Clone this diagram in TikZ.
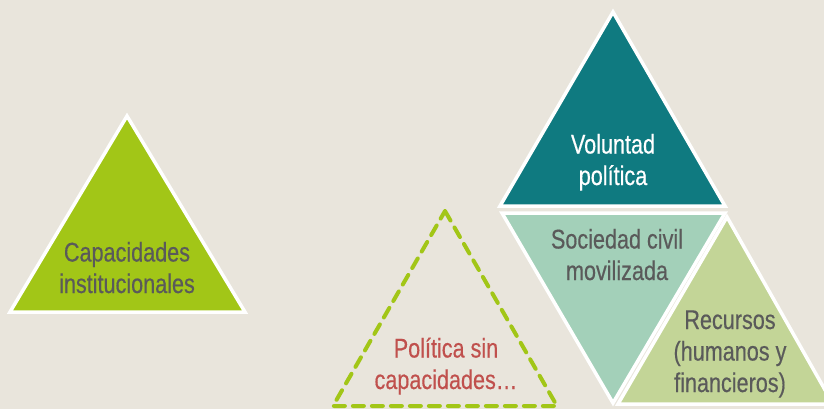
\documentclass[tikz,border=0pt]{standalone}
\usepackage{fontspec}
\setmainfont{Liberation Sans}[FakeStretch=0.8,FakeBold=0.4]
\definecolor{bgc}{HTML}{E9E5DC}
\definecolor{limeg}{HTML}{A2C617}
\definecolor{tealc}{HTML}{0F7A80}
\definecolor{mintc}{HTML}{A3D0B9}
\definecolor{sageg}{HTML}{C3D597}
\definecolor{txtg}{HTML}{5A5A5A}
\definecolor{redt}{HTML}{C0504D}
\tikzset{
  tri/.style={draw=white, line width=3.5pt, line join=miter},
  lbl/.style={align=center, anchor=base, inner sep=0pt, font=\fontsize{27}{31.5}\selectfont},
  dashtri/.style={draw=limeg, line width=4pt, dash pattern=on 11pt off 8pt, line cap=round}
}
\begin{document}
\begin{tikzpicture}[x=1pt,y=-1pt]
\useasboundingbox (0,0) rectangle (824,409);
\fill[bgc] (0,0) rectangle (824,409);
% left triangle
\draw[tri, fill=limeg] (127,116) -- (245,312) -- (10,312) -- cycle;
\node[lbl, text=txtg] (cap) at (127,293) {Capacidades\\institucionales};
% dashed triangle
\draw[dashtri] (445,211) -- (557,406) -- (333,406) -- cycle;
\node[lbl, text=redt] (pol) at (446,389) {Política sin\\capacidades…};
% voluntad
\draw[tri, fill=tealc] (613,12) -- (725,206) -- (500,206) -- cycle;
\node[lbl, text=white] (vol) at (613,185) {Voluntad\\política};
% sociedad civil (inverted)
\draw[tri, fill=mintc] (502,213) -- (725,213) -- (613,403) -- cycle;
\node[lbl, text=txtg] (soc) at (617,280) {Sociedad civil\\movilizada};
% recursos
\draw[tri, fill=sageg] (727,217) -- (833,404) -- (618,404) -- cycle;
\node[lbl, text=txtg] (rec) at (730,392) {Recursos\\(humanos y\\financieros)};
\end{tikzpicture}
\end{document}
